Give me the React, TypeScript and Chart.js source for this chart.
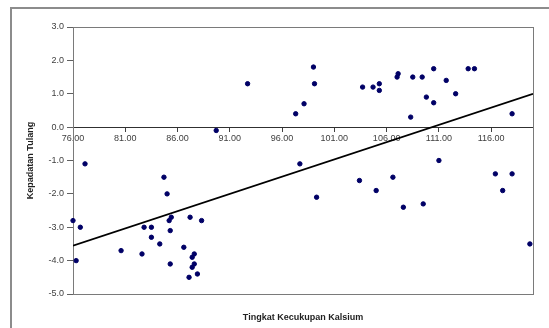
import React, { useEffect, useRef } from "react";
import { Chart, registerables } from "chart.js";

Chart.register(...registerables);

const calciumAdequacy: number[] = [
  76.0, 76.7, 76.3, 77.15, 80.6, 82.6, 82.8, 83.5, 83.5, 84.3,
  84.7, 85.0, 85.4, 85.2, 85.3, 85.3, 87.2, 88.3, 86.6, 87.6,
  87.4, 87.6, 87.4, 87.9, 87.1, 89.7, 92.7, 97.3, 98.1, 99.0,
  99.1, 97.7, 99.3, 103.7, 104.7, 105.3, 105.3, 107.1, 107.0, 108.5,
  109.4, 110.5, 109.8, 110.5, 108.3, 111.7, 112.6, 113.8, 114.4, 118.0,
  103.4, 105.0, 106.6, 107.6, 109.5, 111.0, 116.4, 118.0, 117.1, 119.7,
];
const boneDensity: number[] = [
  -2.8, -3.0, -4.0, -1.1, -3.7, -3.8, -3.0, -3.0, -3.3, -3.5,
  -1.5, -2.0, -2.7, -2.8, -3.1, -4.1, -2.7, -2.8, -3.6, -3.8,
  -3.9, -4.1, -4.2, -4.4, -4.5, -0.1, 1.3, 0.4, 0.7, 1.8,
  1.3, -1.1, -2.1, 1.2, 1.2, 1.3, 1.1, 1.6, 1.5, 1.5,
  1.5, 1.75, 0.9, 0.73, 0.3, 1.4, 1.0, 1.75, 1.75, 0.4,
  -1.6, -1.9, -1.5, -2.4, -2.3, -1.0, -1.4, -1.4, -1.9, -3.5,
];
const trendX: number[] = [76, 120];
const trendY: number[] = [-3.55, 1.0];
const xTickValues: number[] = [76, 81, 86, 91, 96, 101, 106, 111, 116];
const xTitle = "Tingkat Kecukupan Kalsium";
const yTitle = "Kepadatan Tulang";

const FONT = "'Liberation Sans', Arial, sans-serif";

const bordersPlugin = {
  id: "excelBorders",
  beforeDraw(chart: any) {
    const { ctx, width, height } = chart;
    ctx.save();
    ctx.fillStyle = "#ffffff";
    ctx.fillRect(0, 0, width, height);
    ctx.strokeStyle = "#8c8c8c";
    ctx.lineWidth = 2;
    ctx.beginPath();
    ctx.moveTo(11, height);
    ctx.lineTo(11, 8);
    ctx.lineTo(width, 8);
    ctx.stroke();
    ctx.restore();
  },
  beforeDatasetsDraw(chart: any) {
    const { ctx, chartArea } = chart;
    ctx.save();
    ctx.strokeStyle = "#7a7a7a";
    ctx.lineWidth = 1;
    ctx.strokeRect(
      Math.round(chartArea.left) + 0.5,
      Math.round(chartArea.top) + 0.5,
      Math.round(chartArea.right - chartArea.left),
      Math.round(chartArea.bottom - chartArea.top)
    );
    ctx.restore();
  },
};

export default function App() {
  const ref = useRef<HTMLCanvasElement | null>(null);

  useEffect(() => {
    if (!ref.current) return;
    const points = calciumAdequacy.map((x, i) => ({ x, y: boneDensity[i] }));
    const trend = trendX.map((x, i) => ({ x, y: trendY[i] }));
    const chart = new Chart(ref.current, {
      type: "scatter",
      data: {
        datasets: [
          {
            label: "Data",
            data: points,
            backgroundColor: "#000066",
            borderColor: "#000066",
            pointRadius: 2.2,
            pointStyle: "circle",
            clip: false as any,
            order: 1,
          },
          {
            label: "Trend",
            type: "line" as any,
            data: trend,
            borderColor: "#000000",
            borderWidth: 1.75,
            pointRadius: 0,
            fill: false,
            order: 0,
          },
        ],
      },
      options: {
        responsive: false,
        animation: false,
        layout: { padding: { left: 21, top: 27, right: 16, bottom: 0 } },
        plugins: {
          legend: { display: false },
          tooltip: { enabled: false },
          title: { display: false },
        },
        scales: {
          x: {
            type: "linear",
            position: { y: 0 } as any,
            min: 76,
            max: 120,
            afterBuildTicks: (scale: any) => {
              scale.ticks = xTickValues.map((v) => ({ value: v }));
            },
            ticks: {
              callback: (v: any) => Number(v).toFixed(2),
              font: { family: FONT, size: 9 },
              color: "#404040",
              padding: 2,
              maxRotation: 0,
              autoSkip: false,
            },
            grid: {
              drawOnChartArea: false,
              drawTicks: true,
              tickLength: 4,
              color: "#404040",
            },
            border: { display: true, color: "#303030", width: 1 },
          },
          x2: {
            type: "linear",
            position: "bottom",
            display: true,
            min: 76,
            max: 120,
            afterFit: (scale: any) => {
              scale.height = 34;
            },
            ticks: { display: false },
            grid: { display: false, drawTicks: false },
            border: { display: false },
            title: {
              display: true,
              text: xTitle,
              font: { family: FONT, size: 9, weight: "bold" },
              color: "#222222",
              padding: { top: 4, bottom: 5 },
            },
          },
          y: {
            type: "linear",
            position: "left",
            min: -5,
            max: 3,
            afterFit: (scale: any) => {
              scale.width = 52;
            },
            ticks: {
              stepSize: 1,
              callback: (v: any) => Number(v).toFixed(1),
              font: { family: FONT, size: 9 },
              color: "#404040",
              padding: 3,
            },
            grid: {
              drawOnChartArea: false,
              drawTicks: true,
              tickLength: 6,
              color: "#606060",
            },
            border: { display: true, color: "#7a7a7a", width: 1 },
            title: {
              display: true,
              text: yTitle,
              font: { family: FONT, size: 9, weight: "bold" },
              color: "#222222",
              padding: { top: 4, bottom: 4 },
            },
          },
        },
      },
      plugins: [bordersPlugin],
    });
    return () => chart.destroy();
  }, []);

  return (
    <div style={{ position: "absolute", left: 0, top: 0, width: 549, height: 328, background: "#fff" }}>
      <canvas ref={ref} width={549} height={328} style={{ display: "block", width: 549, height: 328 }} />
    </div>
  );
}
